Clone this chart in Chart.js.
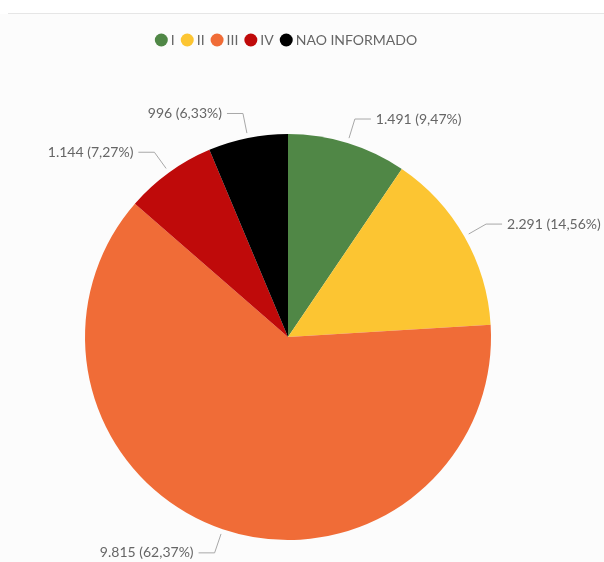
<!DOCTYPE html>
<html>
<head>
<meta charset="utf-8">
<script src="https://cdn.jsdelivr.net/npm/chart.js@4/dist/chart.umd.min.js"></script>
<style>
  html, body { margin: 0; padding: 0; background: #ffffff; }
  #wrap { position: relative; width: 604px; height: 562px; }
</style>
</head>
<body>
<div id="wrap"><canvas id="c" width="604" height="562"></canvas></div>
<script>
// Stage categories, counts and slice colours
const categories = ['I', 'II', 'III', 'IV', 'NAO INFORMADO'];
const counts = [1491, 2291, 9815, 1144, 996];
const colors = ['#508746', '#FCC532', '#F06C37', '#BF0A0A', '#000000'];

const total = counts.reduce((a, b) => a + b, 0);

function fmtInt(v) {
  return String(v).replace(/\B(?=(\d{3})+(?!\d))/g, '.');
}
function fmtPct(v) {
  return (v / total * 100).toFixed(2).replace('.', ',') + '%';
}

// Page frame: light background with a thin rule near the top
const framePlugin = {
  id: 'frame',
  beforeDraw(chart) {
    const ctx = chart.ctx;
    ctx.save();
    ctx.fillStyle = '#fcfcfc';
    ctx.fillRect(0, 14, chart.width, chart.height - 14);
    ctx.strokeStyle = '#e6e6e6';
    ctx.lineWidth = 1;
    ctx.beginPath();
    ctx.moveTo(8, 13.5);
    ctx.lineTo(chart.width, 13.5);
    ctx.stroke();
    ctx.restore();
  }
};

// Reserve room under the legend so the pie sits lower on the page
const legendSpacer = {
  id: 'legendSpacer',
  beforeInit(chart) {
    const legend = chart.legend;
    if (!legend) return;
    const fit = legend.fit;
    legend.fit = function () {
      fit.call(this);
      this.height = 111;
    };
  }
};

// Outside labels with elbow leader lines
const leaderLabels = {
  id: 'leaderLabels',
  afterDatasetsDraw(chart) {
    const ctx = chart.ctx;
    const meta = chart.getDatasetMeta(0);
    ctx.save();
    ctx.font = '14px Lato, "Open Sans", sans-serif';
    ctx.textBaseline = 'middle';
    meta.data.forEach((arc, i) => {
      const { x, y, startAngle, endAngle, outerRadius } = arc.getProps(['x', 'y', 'startAngle', 'endAngle', 'outerRadius'], true);
      const mid = (startAngle + endAngle) / 2;
      const cos = Math.cos(mid), sin = Math.sin(mid);
      const r1 = outerRadius + 5, r2 = outerRadius + 25;
      const x1 = x + cos * r1, y1 = y + sin * r1;
      const x2 = x + cos * r2, y2 = y + sin * r2;
      const right = cos >= 0;
      const x3 = x2 + (right ? 16 : -16);
      ctx.strokeStyle = '#a8a8a8';
      ctx.lineWidth = 1;
      ctx.beginPath();
      ctx.moveTo(x1, y1);
      ctx.lineTo(x2, y2);
      ctx.lineTo(x3, y2);
      ctx.stroke();
      ctx.fillStyle = '#666666';
      ctx.textAlign = right ? 'left' : 'right';
      const v = counts[i];
      ctx.fillText(fmtInt(v) + ' (' + fmtPct(v) + ')', x3 + (right ? 5 : -5), y2);
    });
    ctx.restore();
  }
};

new Chart(document.getElementById('c'), {
  type: 'pie',
  data: {
    labels: categories,
    datasets: [{
      data: counts,
      backgroundColor: colors,
      borderWidth: 0
    }]
  },
  options: {
    responsive: false,
    animation: false,
    layout: { padding: { left: 85, right: 113, top: 23, bottom: 22 } },
    plugins: {
      legend: {
        position: 'top',
        labels: {
          usePointStyle: true,
          pointStyle: 'circle',
          boxWidth: 5,
          boxHeight: 9.2,
          padding: 10,
          color: '#666666',
          font: { family: 'Lato, "Open Sans", sans-serif', size: 14 }
        }
      },
      tooltip: { enabled: false }
    }
  },
  plugins: [framePlugin, legendSpacer, leaderLabels]
});
</script>
</body>
</html>
